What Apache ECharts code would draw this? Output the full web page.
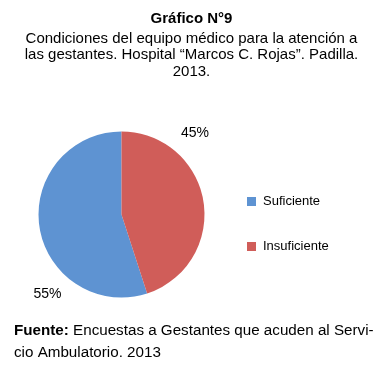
<!DOCTYPE html>
<html><head><meta charset="utf-8">
<script src="https://cdn.jsdelivr.net/npm/echarts@6/dist/echarts.min.js"></script>
<style>html,body{margin:0;padding:0;background:#fff}#c{width:383px;height:368px}</style>
</head><body><div id="c"></div>
<script>
const categories = ["Suficiente", "Insuficiente"];
const values = [55, 45];
const colors = ["#5E93D2", "#D05D59"];

const chart = echarts.init(document.getElementById('c'), null, {renderer: 'canvas'});
const FONT = '"Liberation Sans", Arial, sans-serif';
chart.setOption({
  animation: false,
  backgroundColor: '#fff',
  title: [
    {text: 'Gráfico N°9', left: 'center', top: 11, padding: 0,
     textStyle: {fontFamily: FONT, fontSize: 15, fontWeight: 'bold', color: '#000'}},
    {text: 'Condiciones del equipo médico para la atención a\nlas gestantes. Hospital “Marcos C. Rojas”. Padilla.\n2013.',
     left: 'center', top: 30, padding: 0,
     textStyle: {fontFamily: FONT, fontSize: 15, fontWeight: 'normal', color: '#000', lineHeight: 16.8, align: 'center'}},
    {text: '{b|Fuente:} Encuestas a Gestantes que acuden al Servi-\ncio Ambulatorio. 2013',
     left: 14, top: 320, padding: 0,
     textStyle: {fontFamily: FONT, fontSize: 15.2, fontWeight: 'normal', color: '#000', lineHeight: 22,
       rich: {b: {fontFamily: FONT, fontSize: 15.2, fontWeight: 'bold', color: '#000'}}}}
  ],
  legend: {
    orient: 'vertical', left: 247, top: 195, itemGap: 32, padding: 0,
    itemWidth: 9, itemHeight: 9, icon: 'rect',
    data: categories,
    textStyle: {fontFamily: FONT, fontSize: 13, color: '#000', padding: [0,0,0,2]}
  },
  series: [{
    type: 'pie',
    center: [121.5, 214.5], radius: 83,
    startAngle: 90, clockwise: false,
    avoidLabelOverlap: false,
    color: colors,
    data: categories.map((c, i) => ({name: c, value: values[i]})),
    label: {show: true, position: 'outside', formatter: '{d}%',
      fontFamily: FONT, fontSize: 14, color: '#000'},
    labelLine: {show: false},
    labelLayout: function (p) {
      if (p.dataIndex === 1) return {x: 195, y: 133, align: 'center', verticalAlign: 'middle', hideOverlap: false};
      return {x: 47.5, y: 294, align: 'center', verticalAlign: 'middle', hideOverlap: false};
    },
    itemStyle: {borderWidth: 0},
    emphasis: {disabled: true}
  }]
});
</script></body></html>
